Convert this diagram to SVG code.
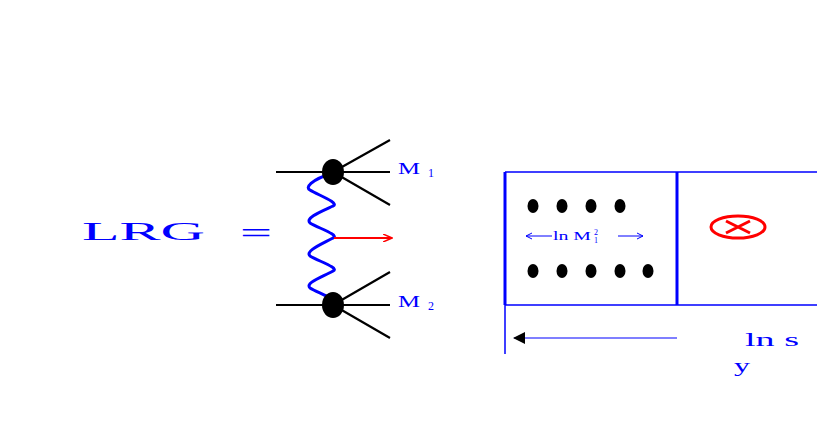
<svg xmlns="http://www.w3.org/2000/svg" width="817" height="436" viewBox="0 0 817 436">
<style>
.b{stroke:#000;stroke-width:2.2;fill:none}
.bl{stroke:#00f;fill:none}
.t{font-family:"Liberation Serif",serif;fill:#00f}
.d{fill:#000}
</style>
<defs>
<marker id="ra" markerWidth="10" markerHeight="8" refX="9" refY="4" orient="auto" markerUnits="userSpaceOnUse"><path d="M0,0L9,4L0,8" fill="none" stroke="#f00" stroke-width="1.5"/></marker>
<marker id="ka" markerWidth="12" markerHeight="12" refX="11" refY="6" orient="auto" markerUnits="userSpaceOnUse"><path d="M0,0L12,6L0,12z" fill="#000"/></marker>
</defs>
<rect width="817" height="436" fill="#fff"/>
<text class="t" x="82" y="240" font-size="26" textLength="123" lengthAdjust="spacingAndGlyphs">LRG</text>
<text class="t" x="240" y="243" font-size="30" textLength="32" lengthAdjust="spacingAndGlyphs">=</text>
<g id="connectors">
<path class="b" d="M276,172H390M333,172L390,140M333,172L390,205M276,305H390M333,305L390,272M333,305L390,338"/>
<path d="M333,173C310,180 305,188 310,190C318,195 340,203 333,206C320,212 305,218 310,223C318,228 340,235 333,238C320,245 305,251 310,256C318,261 340,268 333,271C320,278 305,283 310,288C318,293 340,300 333,304" stroke="#00f" stroke-width="3" fill="none"/>
<line x1="334" y1="238" x2="392" y2="238" stroke="#f00" stroke-width="2" marker-end="url(#ra)"/>
<line x1="677" y1="338" x2="514" y2="338" stroke="#00f" stroke-width="1.2" marker-end="url(#ka)"/>
</g>
<g id="vertex1"><ellipse cx="333" cy="172" rx="11" ry="13" class="d"/><text class="t" x="398" y="174" font-size="17" textLength="22" lengthAdjust="spacingAndGlyphs">M</text><text class="t" x="428" y="177" font-size="12">1</text></g>
<g id="vertex2"><ellipse cx="333" cy="305" rx="11" ry="13" class="d"/><text class="t" x="398" y="307" font-size="17" textLength="22" lengthAdjust="spacingAndGlyphs">M</text><text class="t" x="428" y="310" font-size="12">2</text></g>
<g id="box">
<path class="bl" stroke-width="1.5" d="M505,172H817M505,305H817M505,305V354"/>
<line x1="505" y1="172" x2="505" y2="305" stroke="#00f" stroke-width="3"/>
<line x1="677" y1="172" x2="677" y2="305" stroke="#00f" stroke-width="3"/>
</g>
<g id="dots">
<ellipse cx="533" cy="206" rx="5.5" ry="7" class="d"/><ellipse cx="562" cy="206" rx="5.5" ry="7" class="d"/><ellipse cx="591" cy="206" rx="5.5" ry="7" class="d"/><ellipse cx="620" cy="206" rx="5.5" ry="7" class="d"/>
<ellipse cx="533" cy="271" rx="5.5" ry="7" class="d"/><ellipse cx="562" cy="271" rx="5.5" ry="7" class="d"/><ellipse cx="591" cy="271" rx="5.5" ry="7" class="d"/><ellipse cx="620" cy="271" rx="5.5" ry="7" class="d"/><ellipse cx="648" cy="271" rx="5.5" ry="7" class="d"/>
</g>
<g id="label-lnM">
<path class="bl" stroke-width="1" d="M526,236H552M526,236l6,-3M526,236l6,3M618,236H643M643,236l-6,-3M643,236l-6,3"/>
<text class="t" x="553" y="240" font-size="12" textLength="38" lengthAdjust="spacingAndGlyphs">ln M</text>
<text class="t" x="594" y="235" font-size="8">2</text>
<text class="t" x="594" y="243" font-size="8">1</text>
</g>
<g id="otimes">
<ellipse cx="738" cy="227" rx="27" ry="11" fill="none" stroke="#f00" stroke-width="3"/>
<path d="M726,221L750,233M750,221L726,233" stroke="#f00" stroke-width="3"/>
</g>
<text class="t" x="745" y="346" font-size="18" textLength="54" lengthAdjust="spacingAndGlyphs">ln s</text>
<text class="t" x="734" y="372" font-size="19" textLength="16" lengthAdjust="spacingAndGlyphs">y</text>
</svg>
